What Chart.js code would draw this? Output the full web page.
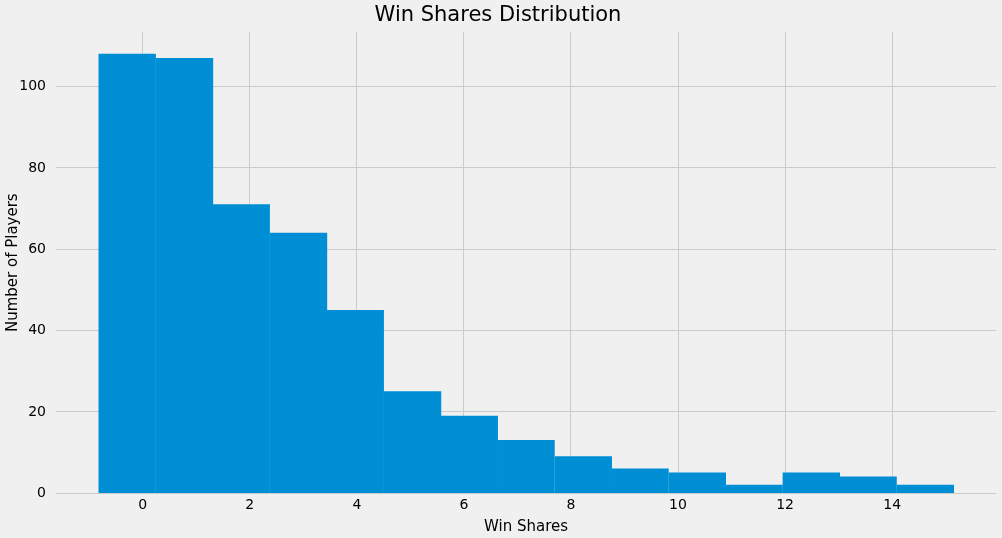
<!DOCTYPE html>
<html><head><meta charset="utf-8">
<script src="https://cdn.jsdelivr.net/npm/chart.js"></script>
<style>html,body{margin:0;padding:0;background:#f0f0f0;}#wrap{width:1002px;height:538px;}</style>
</head><body><div id="wrap"><canvas id="c"></canvas></div>
<script>
const binCenters = [-0.29, 0.78, 1.84, 2.91, 3.97, 5.04, 6.10, 7.16, 8.23, 9.29, 10.36, 11.42, 12.49, 13.55, 14.62];
const counts = [108, 107, 71, 64, 45, 25, 19, 13, 9, 6, 5, 2, 5, 4, 2];
const xTicks = [0, 2, 4, 6, 8, 10, 12, 14];
const yTicks = [0, 20, 40, 60, 80, 100];
const bg = {id:'bg',beforeDraw(ch){const c=ch.ctx;c.save();c.fillStyle='#f0f0f0';c.fillRect(0,0,ch.width,ch.height);c.restore();}};
new Chart(document.getElementById('c'), {
  type: 'bar',
  data: { datasets: [{ data: binCenters.map((x,i)=>({x, y: counts[i]})), backgroundColor: '#008fd5', borderColor: '#008fd5', barPercentage: 1, categoryPercentage: 1, borderWidth: 0 }] },
  options: {
    responsive: true, maintainAspectRatio: false, animation: false,
    layout: { padding: { top: 0, right: 6, left: 0, bottom: 2 } },
    plugins: { legend: { display: false }, tooltip: { enabled: false },
      title: { display: true, text: 'Win Shares Distribution', color: '#000', font: { family: 'DejaVu Sans', size: 21, weight: 'normal' }, padding: { top: 3, bottom: 4 } } },
    scales: {
      x: { type: 'linear', min: -1.62, max: 15.94, offset: false,
        afterBuildTicks(a){ a.ticks = xTicks.map(v=>({value:v})); },
        grid: { color: '#cbcbcb', lineWidth: 1, drawTicks: false, offset: false }, border: { display: false },
        ticks: { color: '#000', font: { family: 'DejaVu Sans', size: 14 }, padding: 4 },
        title: { display: true, text: 'Win Shares', color: '#000', font: { family: 'DejaVu Sans', size: 15 }, padding: { top: 0, bottom: 0 } } },
      y: { min: 0, max: 113.4,
        afterBuildTicks(a){ a.ticks = yTicks.map(v=>({value:v})); },
        afterFit(a){ a.width = 56; },
        grid: { color: '#cbcbcb', lineWidth: 1, drawTicks: false }, border: { display: false },
        ticks: { color: '#000', font: { family: 'DejaVu Sans', size: 14 }, padding: 10 },
        title: { display: true, text: 'Number of Players', color: '#000', font: { family: 'DejaVu Sans', size: 15 }, padding: { bottom: 2 } } }
    }
  },
  plugins: [bg]
});
</script></body></html>
